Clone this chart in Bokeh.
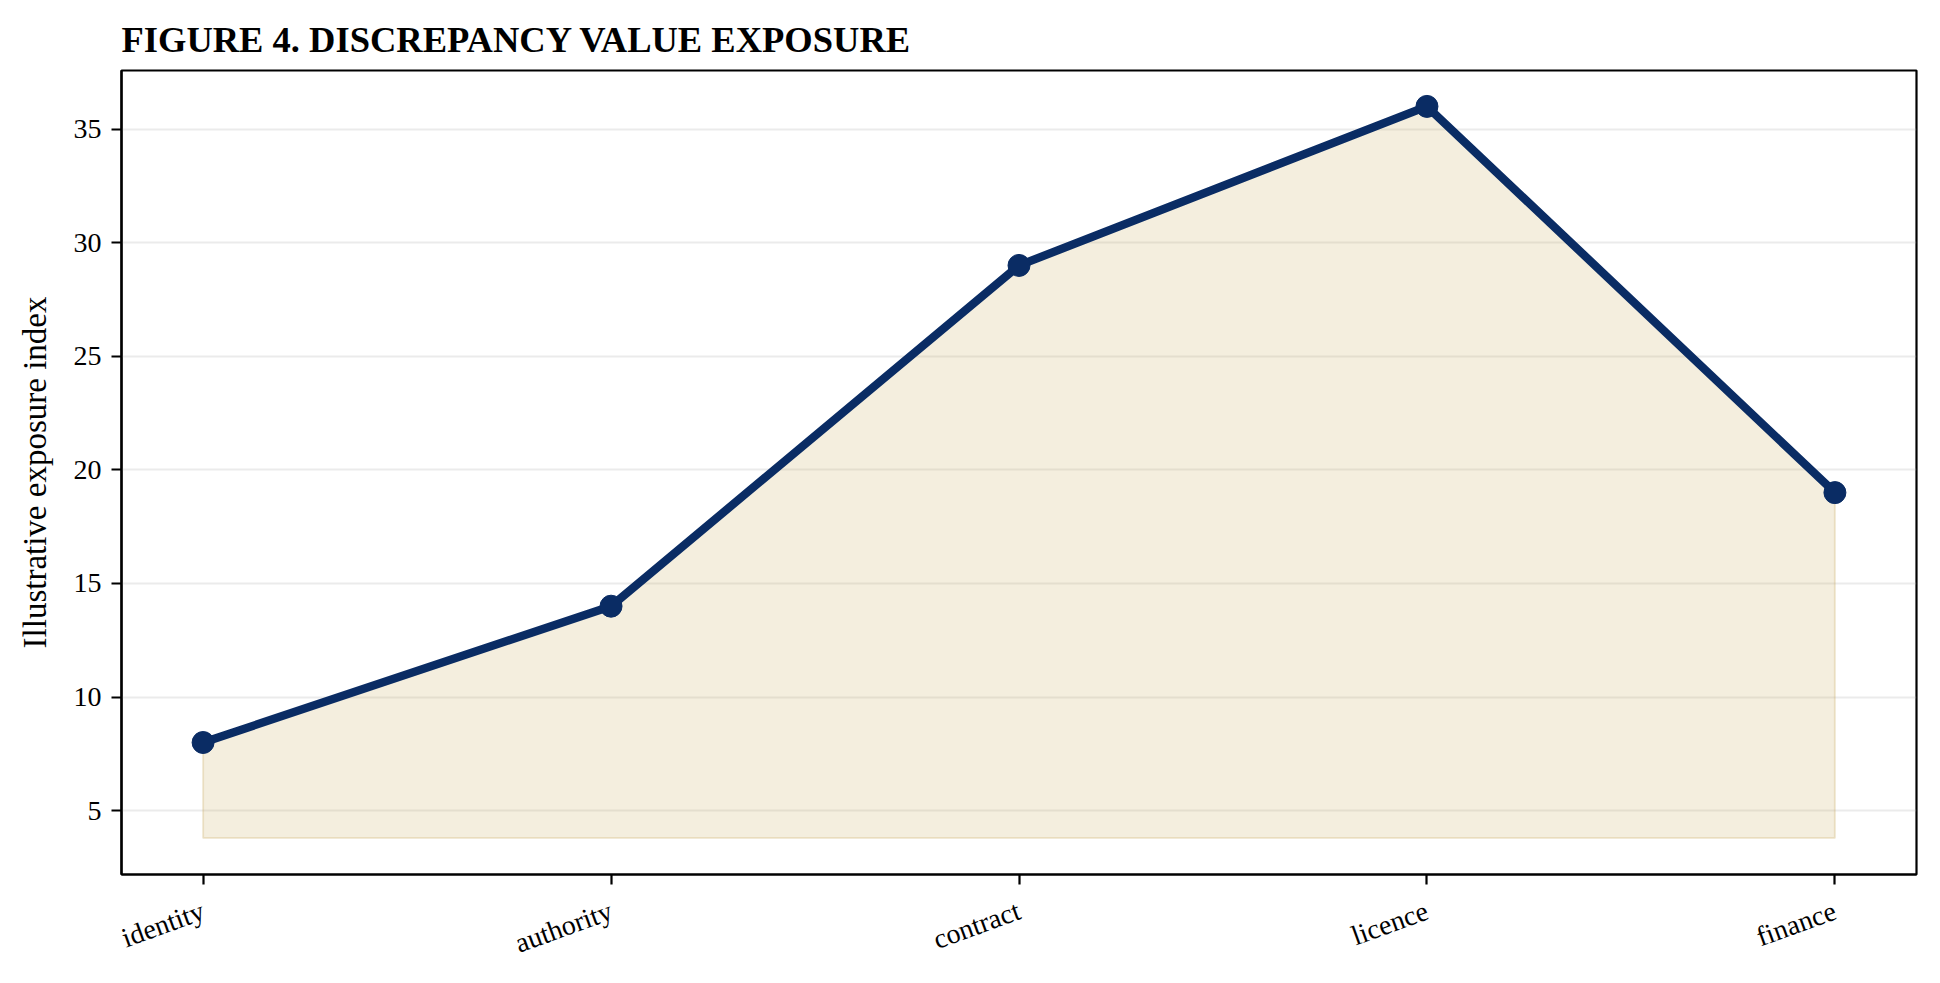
import math

from bokeh.plotting import figure
from bokeh.models import FixedTicker, Range1d
from bokeh.embed import file_html
from bokeh.resources import INLINE

# data
categories = ["identity", "authority", "contract", "licence", "finance"]
exposure = [8, 14, 29, 36, 19]
fill_floor = 3.8
y_ticks = [5, 10, 15, 20, 25, 30, 35]

FONT = "Liberation Serif"
NAVY = "#0a2c64"
SAND = "#c9a85c"

positions = list(range(len(categories)))

p = figure(width=1928, height=976, output_backend="svg", toolbar_location=None,
           x_range=Range1d(-0.2, len(categories) - 0.8), y_range=Range1d(2.19, 37.58),
           min_border_left=121, min_border_right=12, min_border_top=70, min_border_bottom=100,
           title="FIGURE 4. DISCREPANCY VALUE EXPOSURE")

# shaded area under the line
p.patch(positions + positions[::-1], exposure + [fill_floor] * len(positions),
        fill_color=SAND, fill_alpha=0.2, line_color=SAND, line_alpha=0.25, line_width=2)
p.line(positions, exposure, line_color=NAVY, line_width=8.3)
p.scatter(positions, exposure, size=22, fill_color=NAVY, line_color=NAVY)

p.title.text_font = FONT
p.title.text_font_size = "36.5px"
p.title.text_font_style = "bold"
p.title.text_color = "black"
p.title.align = "left"
p.title.offset = 0
p.title.standoff = 22

p.xaxis.ticker = FixedTicker(ticks=positions)
p.xaxis.major_label_overrides = {i: c for i, c in zip(positions, categories)}
p.xaxis.major_label_orientation = math.radians(20)
p.yaxis.ticker = FixedTicker(ticks=y_ticks)
p.yaxis.axis_label = "Illustrative exposure index"

for ax in (p.xaxis, p.yaxis):
    ax.major_label_text_font = FONT
    ax.major_label_text_font_size = "28px"
    ax.major_label_text_color = "black"
    ax.axis_label_text_font = FONT
    ax.axis_label_text_font_size = "33px"
    ax.axis_label_text_font_style = "normal"
    ax.axis_label_text_color = "black"
    ax.axis_label_standoff = 18
    ax.axis_line_color = "black"
    ax.axis_line_width = 2.2
    ax.major_tick_line_color = "black"
    ax.major_tick_line_width = 2.2
    ax.major_tick_out = 10
    ax.major_tick_in = 0
    ax.minor_tick_line_color = None
    ax.major_label_standoff = 10

p.xaxis.major_label_standoff = 25

p.xgrid.grid_line_color = None
p.ygrid.grid_line_color = "#b0b0b0"
p.ygrid.grid_line_alpha = 0.25
p.ygrid.grid_line_width = 2.2

p.outline_line_color = "black"
p.outline_line_width = 2.2
p.outline_line_alpha = 1

open("out.html", "w").write(file_html(p, INLINE))
